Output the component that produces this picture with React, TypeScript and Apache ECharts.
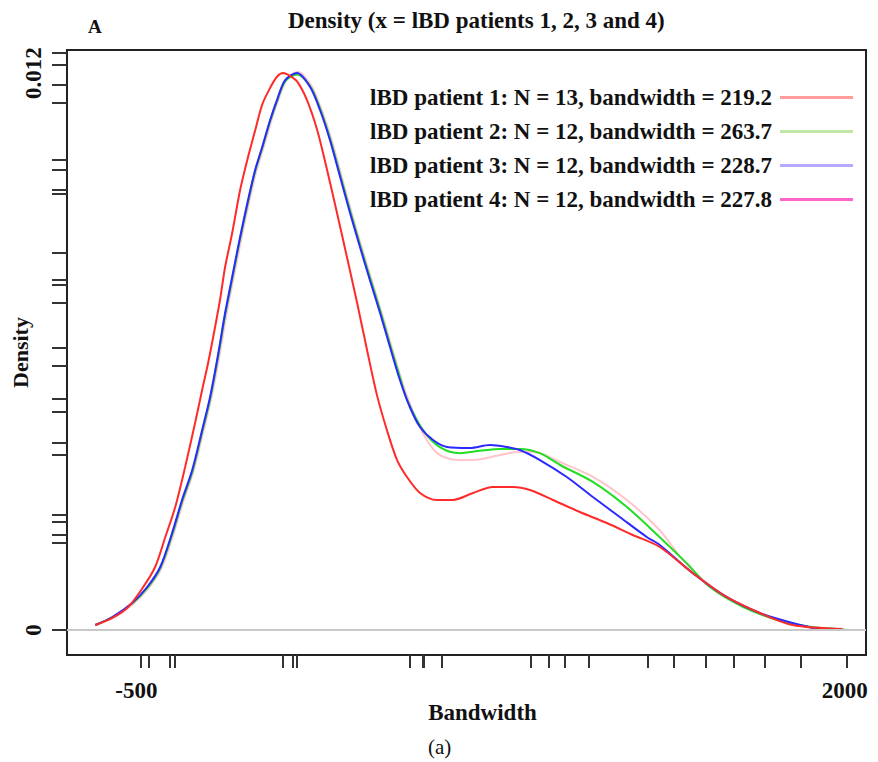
import React, { useEffect, useRef } from "react";
import * as echarts from "echarts";

const FONT = "'Liberation Serif', 'DejaVu Serif', 'Times New Roman', serif";

const seriesNames = [
  "lBD patient 1: N = 13, bandwidth = 219.2",
  "lBD patient 2: N = 12, bandwidth = 263.7",
  "lBD patient 3: N = 12, bandwidth = 228.7",
  "lBD patient 4: N = 12, bandwidth = 227.8",
];

const curveColors = ["#ff2a2a", "#22dd22", "#2a2aff", "#ffc4cc"];
const legendColors = ["#ff9c9c", "#c4e6a4", "#b4a8ff", "#ff66cc"];

const xLabelValues = [-500, 2000];
const yLabelValues = [0, 0.012];

const xRug = [-483, -455, -381, -363, 18, 53, 67, 465, 511, 515, 578, 892, 956, 1012, 1097, 1305, 1396, 1509, 1608, 1717, 1844, 2006];
const yRug = [0.012431, 0.012172, 0.011741, 0.011354, 0.010126, 0.00991, 0.009479, 0.009393, 0.008122, 0.00754, 0.007433, 0.007045, 0.006075, 0.005688, 0.004977, 0.004697, 0.004029, 0.00377, 0.002478, 0.002327, 0.002047, 0.001874, 0];

const patient1 = [
  [-645, 0.000108], [-585, 0.000259], [-529, 0.000496], [-476, 0.000926], [-434, 0.001357],
  [-398, 0.002004], [-363, 0.00265], [-328, 0.003512], [-293, 0.00446], [-268, 0.005171],
  [-247, 0.005752], [-229, 0.006312], [-205, 0.00711], [-187, 0.00782], [-162, 0.008553],
  [-134, 0.009479], [-106, 0.01019], [-81, 0.01076], [-56, 0.01132], [-28, 0.01168],
  [-4, 0.01192], [18, 0.0120], [42, 0.01194], [67, 0.01182], [102, 0.011418], [138, 0.010772],
  [173, 0.00991], [208, 0.008984], [243, 0.008036], [279, 0.007045], [314, 0.006032],
  [349, 0.00506], [384, 0.00431], [420, 0.00366], [455, 0.003296], [501, 0.002952],
  [561, 0.002801], [617, 0.002801], [688, 0.002952], [758, 0.003081], [829, 0.003081],
  [889, 0.003016], [970, 0.002801], [1065, 0.002542], [1160, 0.002305], [1252, 0.002047],
  [1347, 0.001788], [1463, 0.001228], [1583, 0.000711], [1700, 0.000366], [1816, 0.000108],
  [1992, 0.000022],
];

const patient2 = [
  [-645, 0.000108], [-585, 0.00027], [-515, 0.00057], [-462, 0.0009], [-416, 0.00133],
  [-374, 0.00205], [-339, 0.00276], [-303, 0.0034], [-268, 0.00426], [-240, 0.00497],
  [-212, 0.00588], [-187, 0.00678], [-162, 0.00756], [-134, 0.00843], [-106, 0.00922],
  [-81, 0.00988], [-56, 0.01038], [-28, 0.01096], [-4, 0.01139], [25, 0.01182],
  [67, 0.01197], [113, 0.01172], [148, 0.01124], [183, 0.0106], [219, 0.00981],
  [254, 0.00904], [289, 0.0083], [324, 0.0076], [360, 0.00689], [395, 0.00615],
  [430, 0.00545], [455, 0.00496], [511, 0.00431], [571, 0.00394], [642, 0.00381],
  [712, 0.00386], [783, 0.0039], [853, 0.0039], [924, 0.00381], [994, 0.00356],
  [1111, 0.00319], [1231, 0.00265], [1347, 0.002], [1442, 0.00144], [1523, 0.00093],
  [1640, 0.0005], [1760, 0.00022], [1876, 0.00007], [1999, 0.00001],
];

const patient3 = [
  [-645, 0.000108], [-585, 0.00028], [-515, 0.000582], [-462, 0.000926], [-416, 0.001357],
  [-374, 0.00209], [-339, 0.002801], [-303, 0.003447], [-268, 0.004309], [-240, 0.00502],
  [-212, 0.005925], [-187, 0.006829], [-162, 0.007605], [-134, 0.008467], [-106, 0.009264],
  [-81, 0.00991], [-56, 0.010406], [-28, 0.010987], [-4, 0.011418], [25, 0.011849],
  [67, 0.012], [113, 0.011698], [148, 0.011203], [183, 0.010557], [219, 0.009759],
  [254, 0.008984], [289, 0.008251], [324, 0.00754], [360, 0.006829], [395, 0.006097],
  [430, 0.005386], [465, 0.004804], [501, 0.004373], [547, 0.004093], [596, 0.003943],
  [677, 0.003921], [748, 0.003986], [807, 0.003943], [853, 0.003878], [924, 0.003662],
  [1019, 0.003296], [1111, 0.002865], [1206, 0.002434], [1301, 0.002004], [1347, 0.001831],
  [1463, 0.001228], [1583, 0.000711], [1700, 0.000366], [1816, 0.000151], [1911, 0.000022],
  [1999, 0.0],
];

const patient4 = [
  [-640, 0.000108], [-580, 0.00027], [-510, 0.00057], [-457, 0.0009], [-411, 0.00134],
  [-369, 0.00207], [-334, 0.00278], [-298, 0.00343], [-263, 0.00429], [-235, 0.005],
  [-207, 0.0059], [-182, 0.0068], [-157, 0.00758], [-129, 0.00845], [-101, 0.00925],
  [-76, 0.0099], [-51, 0.0104], [-23, 0.01099], [1, 0.01142], [30, 0.01185],
  [70, 0.01203], [118, 0.01172], [153, 0.01122], [188, 0.01058], [224, 0.00978],
  [259, 0.009], [294, 0.00827], [329, 0.00756], [365, 0.00685], [400, 0.00612],
  [435, 0.0054], [470, 0.0048], [511, 0.00424], [561, 0.00381], [632, 0.00366],
  [712, 0.00368], [783, 0.00377], [853, 0.00384], [924, 0.00381], [994, 0.00362],
  [1111, 0.0033], [1231, 0.0028], [1347, 0.00215], [1428, 0.00151], [1499, 0.00108],
  [1583, 0.00071], [1700, 0.00037], [1816, 0.00011], [1992, 0.00002],
];

const allData = [patient1, patient2, patient3, patient4];

export default function App() {
  const ref = useRef<HTMLDivElement>(null);

  useEffect(() => {
    if (!ref.current) return;
    const chart = echarts.init(ref.current, null, { renderer: "svg" });

    const lineSeries = (i: number, extra: any = {}) => ({
      name: seriesNames[i],
      type: "line",
      data: allData[i],
      showSymbol: false,
      smooth: 0.3,
      color: curveColors[i],
      lineStyle: { color: curveColors[i], width: 2 },
      ...extra,
    });

    chart.setOption({
      animation: false,
      backgroundColor: "#ffffff",
      title: [
        {
          text: "A",
          left: 88,
          top: 17,
          padding: 0,
          textStyle: { fontFamily: FONT, fontSize: 19, fontWeight: "bold", color: "#111" },
        },
        {
          text: "Density (x = lBD patients 1, 2, 3 and 4)",
          left: 288,
          top: 9,
          padding: 0,
          textStyle: { fontFamily: FONT, fontSize: 23, fontWeight: "bold", color: "#111" },
        },
      ],
      legend: {
        data: seriesNames.map((n, i) => ({
          name: n,
          itemStyle: { color: legendColors[i] },
        })),
        orient: "vertical",
        right: 25,
        top: 86,
        align: "right",
        icon: "rect",
        itemWidth: 73,
        itemHeight: 3,
        itemGap: 11,
        padding: 0,
        selectedMode: false,
        textStyle: {
          fontFamily: FONT,
          fontSize: 23,
          fontWeight: "bold",
          color: "#111",
          lineHeight: 23,
          padding: [0, 3, 0, 0],
        },
      },
      grid: {
        left: 67,
        right: 12,
        top: 50,
        bottom: 107,
        outerBoundsMode: "none",
        containLabel: false,
        show: true,
        borderColor: "#222",
        borderWidth: 2,
        backgroundColor: "transparent",
      },
      xAxis: {
        type: "value",
        min: -745,
        max: 2075,
        axisLine: { show: false, onZero: false },
        splitLine: { show: false },
        axisTick: {
          show: true,
          customValues: xRug,
          length: 13,
          lineStyle: { color: "#333", width: 2 },
        },
        axisLabel: {
          customValues: xLabelValues,
          fontFamily: FONT,
          fontSize: 23,
          fontWeight: "bold",
          color: "#111",
          margin: 24,
          formatter: (v: number) => String(v),
        },
        name: "Bandwidth",
        nameLocation: "middle",
        nameGap: 46,
        nameMoveOverlap: false,
        nameTextStyle: {
          fontFamily: FONT,
          fontSize: 23,
          fontWeight: "bold",
          color: "#111",
          padding: [0, 0, 0, 32],
        },
      },
      yAxis: {
        type: "value",
        min: -0.000539,
        max: 0.012496,
        axisLine: { show: false, onZero: false },
        splitLine: { show: false },
        axisTick: {
          show: true,
          customValues: yRug,
          length: 15,
          lineStyle: { color: "#333", width: 2 },
        },
        axisLabel: {
          customValues: yLabelValues,
          rotate: 90,
          fontFamily: FONT,
          fontSize: 23,
          fontWeight: "bold",
          color: "#111",
          margin: 22,
          formatter: (v: number) => (v === 0 ? "0" : String(v)),
        },
        name: "Density",
        nameLocation: "middle",
        nameGap: 36,
        nameMoveOverlap: false,
        nameTextStyle: { fontFamily: FONT, fontSize: 22, fontWeight: "bold", color: "#111" },
      },
      graphic: [
        {
          type: "text",
          left: 428,
          top: 736,
          style: { text: "(a)", fontFamily: FONT, fontSize: 21, fill: "#111" },
        },
      ],
      series: [
        lineSeries(3, {
          markLine: {
            silent: true,
            symbol: ["none", "none"],
            label: { show: false },
            lineStyle: { color: "#c8c8c8", width: 2, type: "solid" },
            data: [{ yAxis: 0 }],
          },
        }),
        lineSeries(1),
        lineSeries(2),
        lineSeries(0),
      ],
    });

    return () => chart.dispose();
  }, []);

  return (
    <div
      ref={ref}
      style={{ position: "absolute", left: 0, top: 0, width: 878, height: 762, background: "#fff" }}
    />
  );
}
